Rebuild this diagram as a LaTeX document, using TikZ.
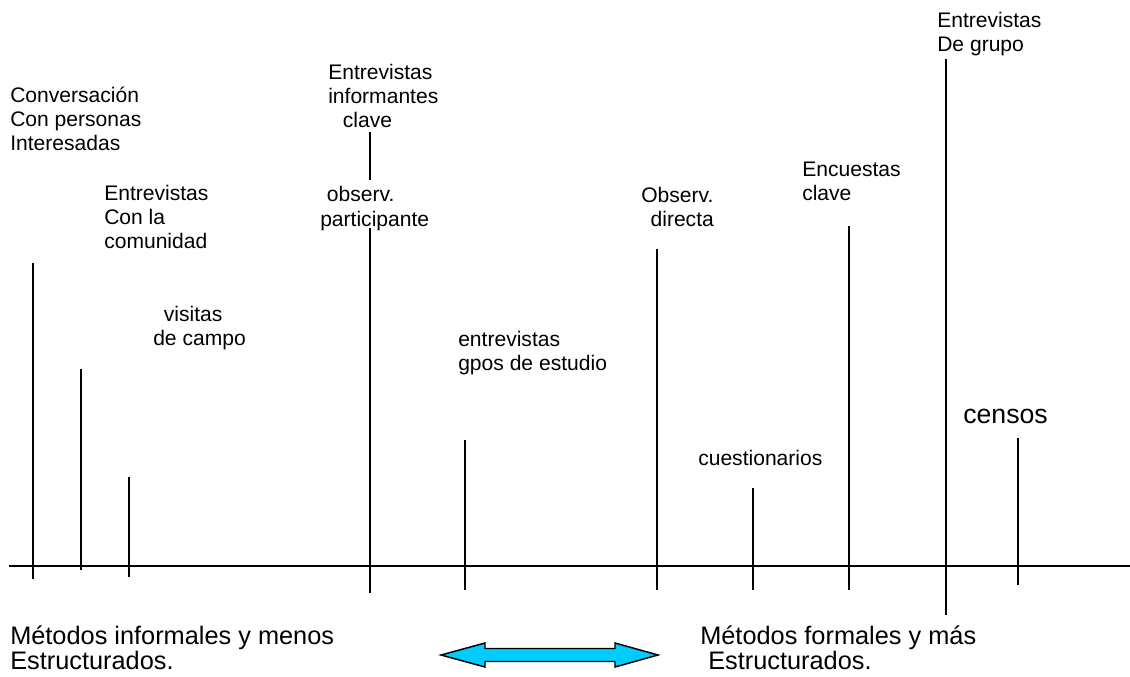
\documentclass[tikz,border=0pt]{standalone}
\usepackage{fontspec}
\setmainfont{Liberation Sans}
\usetikzlibrary{positioning}
\definecolor{arrowcyan}{RGB}{0,204,255}

\begin{document}
\begin{tikzpicture}[
  x=0.75pt, y=-0.75pt,
  mline/.style={line width=1.4pt},
  lbl/.style={anchor=base west, inner sep=0pt, align=left,
              font=\fontsize{15.8}{18}\selectfont},
  biglbl/.style={lbl, font=\fontsize{19}{18.5}\selectfont},
  bothead/.style={draw, line width=1.1pt, fill=arrowcyan, line join=miter},
]
\useasboundingbox (0,0) rectangle (1130,677);

% axis
\coordinate (axL) at (9,566);
\coordinate (axR) at (1130,566);
\draw[mline] (axL) -- (axR);

% vertical lines
\foreach \xx/\ya/\yb in {33/263/579, 81/369/570, 129/477/577, 465/440/590,
                         657/249/590, 753/488/590, 849/226/590, 946/59/615,
                         1018/438/585}
  \draw[mline] (\xx,\ya) -- (\xx,\yb);
\draw[mline] (370,132) -- (370,180);
\draw[mline] (370,228) -- (370,593);

% labels (placed at the baseline of their last line)
\node[lbl] (conv) at (10,151) {Conversación\\Con personas\\Interesadas};
\node[lbl] (comu) at (104,248) {Entrevistas\\Con la\\comunidad};
\node[lbl] (visit) at (153,345) {\hspace*{8pt}visitas\\de campo};
\node[lbl] (infor) at (328,128) {Entrevistas\\informantes\\\hspace*{11pt}clave};
\node[lbl] (partic) at (320,226) {\hspace*{5pt}observ.\\participante};
\node[lbl] (gpos) at (458,370) {entrevistas\\gpos de estudio};
\node[lbl] (direc) at (641,227) {Observ.\\\hspace*{7pt}directa};
\node[lbl] (encu) at (802,201) {Encuestas\\clave};
\node[lbl] (grupo) at (937,52) {Entrevistas\\De grupo};
\node[lbl] (cuest) at (698,465) {cuestionarios};
\node[lbl, font=\fontsize{20}{24}\selectfont] (censos) at (963,423) {censos};

% bottom
\node[biglbl] (informal) at (10,669) {Métodos informales y menos\\Estructurados.};
\node[biglbl] (formal) at (700,669) {Métodos formales y más\\\hspace*{6pt}Estructurados.};
\draw[bothead] (441,655) -- (485,643) -- (485,648.5) -- (615,648.5)
  -- (615,643) -- (658,655) -- (615,667) -- (615,661.5)
  -- (485,661.5) -- (485,667) -- cycle;
\end{tikzpicture}
\end{document}
